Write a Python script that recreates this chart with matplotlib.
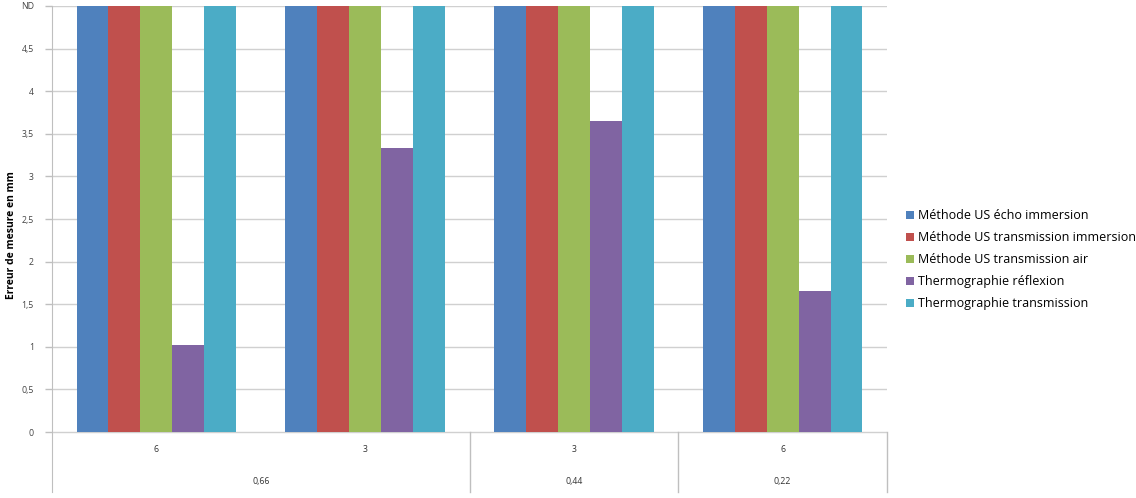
import matplotlib.pyplot as plt
import numpy as np

# data (ND plotted at 5)
level1 = ['6', '3', '3', '6']
level2 = ['0,66', '0,44', '0,22']
level2_span = [2, 1, 1]
series = ['Méthode US écho immersion', 'Méthode US transmission immersion',
          'Méthode US transmission air', 'Thermographie réflexion',
          'Thermographie transmission']
us_echo = [5, 5, 5, 5]
us_trans_imm = [5, 5, 5, 5]
us_trans_air = [5, 5, 5, 5]
thermo_refl = [1.02, 3.33, 3.65, 1.66]
thermo_trans = [5, 5, 5, 5]
colors = ['#4F81BD', '#C0504D', '#9BBB59', '#8064A2', '#4BACC6']

yticks = [0, 0.5, 1, 1.5, 2, 2.5, 3, 3.5, 4, 4.5, 5]
ylabels = ['0', '0,5', '1', '1,5', '2', '2,5', '3', '3,5', '4', '4,5', 'ND']

plt.rcParams['font.family'] = ['Open Sans', 'DejaVu Sans']

fig = plt.figure(figsize=(11.36, 4.98), dpi=100)
ax = fig.add_axes([52/1136, 1-492/498, (887-52)/1136, (492-6)/498])

vals = [us_echo, us_trans_imm, us_trans_air, thermo_refl, thermo_trans]
x = np.arange(len(level1))
w = 0.153
for i, v in enumerate(vals):
    ax.bar(x + (i-2)*w, v, w, color=colors[i], label=series[i], zorder=3)

ax.set_xlim(-0.5, 3.5)
bottom = -0.704
ax.set_ylim(bottom, 5)
ax.set_yticks(yticks)
ax.set_yticklabels(ylabels, fontsize=6.3, color='#444444')
ax.tick_params(axis='y', length=5, color='#bfbfbf', width=1, pad=8)
ax.set_xticks([])
for yv in yticks:
    ax.axhline(yv, color='#d0d0d0', lw=1, zorder=1)
for s in ['top', 'right', 'bottom']:
    ax.spines[s].set_visible(False)
ax.spines['left'].set_color('#bfbfbf')

# multi level category axis
for i, lab in enumerate(level1):
    ax.text(i, -0.21, lab, ha='center', va='center', fontsize=6.3, color='#333333')
start = -0.5
for lab, sp in zip(level2, level2_span):
    end = start + sp
    ax.text((start+end)/2, -0.575, lab, ha='center', va='center', fontsize=6.3, color='#333333')
    ax.plot([end, end], [0, bottom], color='#bfbfbf', lw=1, clip_on=False)
    start = end

fig.text(12/1136, 1-235/498, 'Erreur de mesure en mm', rotation=90, ha='center', va='center',
         fontsize=7.5, fontweight='bold')

fig.legend(loc='upper left', bbox_to_anchor=(901/1136, 1-204/498), frameon=False,
           fontsize=9, handlelength=0.6, handleheight=0.6, handletextpad=0.4,
           labelspacing=0.72, borderaxespad=0)

fig.savefig('out.png', dpi=100)
